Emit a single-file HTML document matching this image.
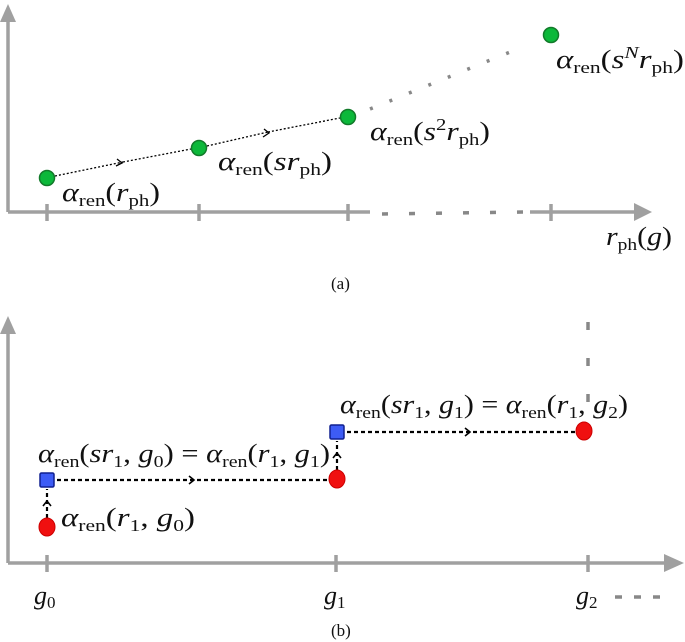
<!DOCTYPE html>
<html><head><style>body{margin:0;background:#fff}svg{display:block}text{font-family:"Liberation Serif",serif;font-size:26px;fill:#111}.i{font-style:italic}.s{font-size:17px}</style></head><body>
<svg width="685" height="642" viewBox="0 0 685 642" xmlns="http://www.w3.org/2000/svg">
<g stroke="#a0a0a0" stroke-width="3.5" fill="none">
<line x1="8" y1="212" x2="8" y2="20"/><line x1="8" y1="212" x2="370" y2="212"/><line x1="530" y1="212" x2="636" y2="212"/>
<line x1="47" y1="204" x2="47" y2="221"/><line x1="199" y1="204" x2="199" y2="221"/><line x1="348" y1="204" x2="348" y2="221"/><line x1="551" y1="204" x2="551" y2="221"/>
<line x1="382" y1="214" x2="525" y2="212" stroke-dasharray="6,21" stroke="#888"/>
<line x1="370" y1="109" x2="515" y2="50" stroke-dasharray="3,18" stroke="#888"/>
<line x1="8" y1="563" x2="8" y2="332"/><line x1="8" y1="563" x2="666" y2="563"/>
<line x1="47" y1="555" x2="47" y2="572"/><line x1="336" y1="555" x2="336" y2="572"/><line x1="588" y1="555" x2="588" y2="572"/>
<line x1="588" y1="322" x2="588" y2="412" stroke-dasharray="8,28" stroke="#888"/>
<line x1="615" y1="597" x2="665" y2="597" stroke-dasharray="7,12" stroke="#888"/>
</g>
<g fill="#a0a0a0"><polygon points="0,22 8,4 16,22"/><polygon points="634,203 652,212 634,221"/><polygon points="0,334 8,316 16,334"/><polygon points="664,554 684,563 664,572"/></g>
<g stroke="#000" stroke-width="1.3" stroke-dasharray="2,2" fill="none">
<path d="M55,176 L123,162 M123,162 L191,149"/><path d="M207,146 L268,132 M268,132 L340,118"/>
</g>
<g stroke="#000" stroke-width="1.3" fill="none"><path d="M117,159 L122,163 L116,166"/><path d="M264,129 L269,133 L263,137"/></g>
<g fill="#0cb83a" stroke="#127a2a" stroke-width="1.5"><circle cx="47" cy="178" r="7.5"/><circle cx="199" cy="148" r="7.5"/><circle cx="348" cy="117" r="7.5"/><circle cx="551" cy="35" r="7.5"/></g>
<g stroke="#000" stroke-width="2.2" stroke-dasharray="4,3" fill="none">
<line x1="57" y1="480" x2="328" y2="480"/><line x1="347" y1="432" x2="575" y2="432"/>
<line x1="47" y1="518" x2="47" y2="489"/><line x1="337" y1="470" x2="337" y2="441"/>
</g>
<g stroke="#000" stroke-width="1.6" fill="none"><path d="M189,476 L194,480 L189,484"/><path d="M465,428 L470,432 L465,436"/><path d="M43,506 L47,501 L51,506"/><path d="M333,458 L337,453 L341,458"/></g>
<g fill="#f01010" stroke="#c00" stroke-width="1"><ellipse cx="47" cy="527" rx="8" ry="9"/><ellipse cx="337" cy="479" rx="8" ry="9"/><ellipse cx="584" cy="431" rx="8" ry="9"/></g>
<g fill="#3d5cf5" stroke="#102090" stroke-width="1.5"><rect x="40" y="473" width="14" height="14" rx="1.5"/><rect x="330" y="425" width="14" height="14" rx="1.5"/></g>
<text x="62" y="201" textLength="98" lengthAdjust="spacingAndGlyphs"><tspan class="i">α</tspan><tspan class="s" dy="5">ren</tspan><tspan dy="-5">(</tspan><tspan class="i">r</tspan><tspan class="s" dy="5">ph</tspan><tspan dy="-5">)</tspan></text>
<text x="218" y="170" textLength="114" lengthAdjust="spacingAndGlyphs"><tspan class="i">α</tspan><tspan class="s" dy="5">ren</tspan><tspan dy="-5">(</tspan><tspan class="i">sr</tspan><tspan class="s" dy="5">ph</tspan><tspan dy="-5">)</tspan></text>
<text x="370" y="140" textLength="120" lengthAdjust="spacingAndGlyphs"><tspan class="i">α</tspan><tspan class="s" dy="5">ren</tspan><tspan dy="-5">(</tspan><tspan class="i">s</tspan><tspan class="s" dy="-10">2</tspan><tspan class="i" dy="10">r</tspan><tspan class="s" dy="5">ph</tspan><tspan dy="-5">)</tspan></text>
<text x="556" y="68" textLength="128" lengthAdjust="spacingAndGlyphs"><tspan class="i">α</tspan><tspan class="s" dy="5">ren</tspan><tspan dy="-5">(</tspan><tspan class="i">s</tspan><tspan class="s i" dy="-10">N</tspan><tspan class="i" dy="10">r</tspan><tspan class="s" dy="5">ph</tspan><tspan dy="-5">)</tspan></text>
<text x="606" y="245" textLength="66" lengthAdjust="spacingAndGlyphs"><tspan class="i">r</tspan><tspan class="s" dy="5">ph</tspan><tspan dy="-5">(</tspan><tspan class="i">g</tspan>)</text>
<text x="331" y="289" style="font-size:17px">(a)</text>
<text x="38" y="462" textLength="292" lengthAdjust="spacingAndGlyphs"><tspan class="i">α</tspan><tspan class="s" dy="5">ren</tspan><tspan dy="-5">(</tspan><tspan class="i">sr</tspan><tspan class="s" dy="5">1</tspan><tspan dy="-5">, </tspan><tspan class="i">g</tspan><tspan class="s" dy="5">0</tspan><tspan dy="-5">) = </tspan><tspan class="i">α</tspan><tspan class="s" dy="5">ren</tspan><tspan dy="-5">(</tspan><tspan class="i">r</tspan><tspan class="s" dy="5">1</tspan><tspan dy="-5">, </tspan><tspan class="i">g</tspan><tspan class="s" dy="5">1</tspan><tspan dy="-5">)</tspan></text>
<text x="340" y="413" textLength="288" lengthAdjust="spacingAndGlyphs"><tspan class="i">α</tspan><tspan class="s" dy="5">ren</tspan><tspan dy="-5">(</tspan><tspan class="i">sr</tspan><tspan class="s" dy="5">1</tspan><tspan dy="-5">, </tspan><tspan class="i">g</tspan><tspan class="s" dy="5">1</tspan><tspan dy="-5">) = </tspan><tspan class="i">α</tspan><tspan class="s" dy="5">ren</tspan><tspan dy="-5">(</tspan><tspan class="i">r</tspan><tspan class="s" dy="5">1</tspan><tspan dy="-5">, </tspan><tspan class="i">g</tspan><tspan class="s" dy="5">2</tspan><tspan dy="-5">)</tspan></text>
<text x="61" y="526" textLength="134" lengthAdjust="spacingAndGlyphs"><tspan class="i">α</tspan><tspan class="s" dy="5">ren</tspan><tspan dy="-5">(</tspan><tspan class="i">r</tspan><tspan class="s" dy="5">1</tspan><tspan dy="-5">, </tspan><tspan class="i">g</tspan><tspan class="s" dy="5">0</tspan><tspan dy="-5">)</tspan></text>
<text x="34" y="604"><tspan class="i">g</tspan><tspan class="s" dy="4">0</tspan></text>
<text x="324" y="604"><tspan class="i">g</tspan><tspan class="s" dy="4">1</tspan></text>
<text x="576" y="604"><tspan class="i">g</tspan><tspan class="s" dy="4">2</tspan></text>
<text x="331" y="636" style="font-size:17px">(b)</text>
</svg>
</body></html>
